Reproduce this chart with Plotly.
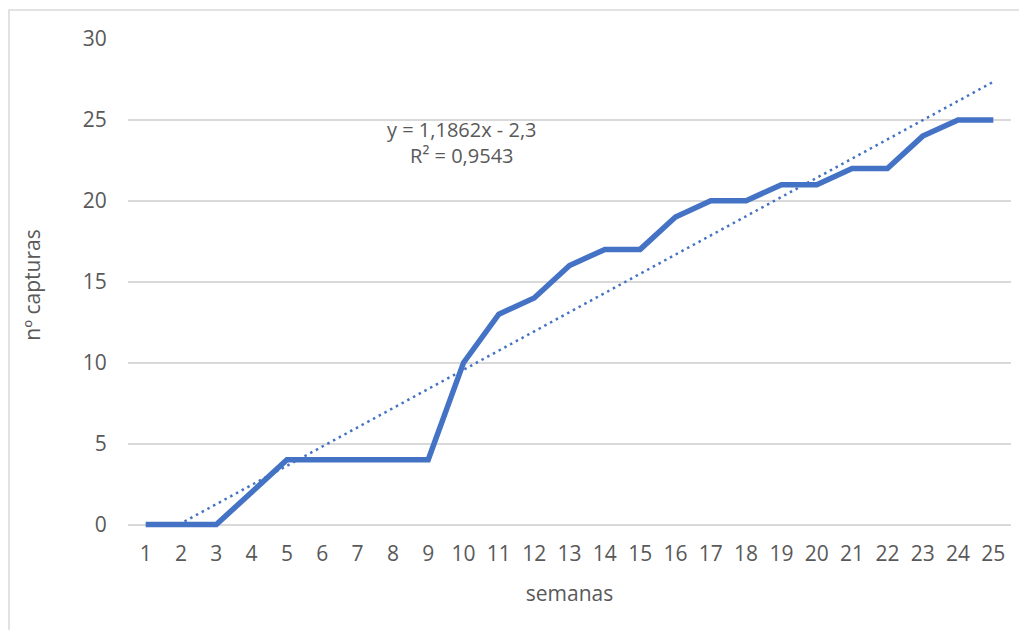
import numpy as np
import plotly.graph_objects as go

semanas = list(range(1, 26))
capturas = [0, 0, 0, 2, 4, 4, 4, 4, 4, 10, 13, 14, 16, 17, 17, 19, 20, 20, 21, 21, 22, 22, 24, 25, 25]
y_ticks = [0, 5, 10, 15, 20, 25, 30]

x = np.array(semanas, dtype=float)
y = np.array(capturas, dtype=float)
m, b = np.polyfit(x, y, 1)
yhat = m * x + b
r2 = 1 - np.sum((y - yhat) ** 2) / np.sum((y - y.mean()) ** 2)
x_start = max(x.min(), -b / m)
tx = np.linspace(x_start, x.max(), 60)
ty = m * tx + b

def fmt(v, d):
    return f"{v:.{d}f}".replace(".", ",")

eq = f"y = {fmt(m, 4)}x - {fmt(abs(b), 1)}<br>R² = {fmt(r2, 4)}"

BLUE = "#4472C4"
GREY = "#595959"
FONT = "Open Sans"

# page body has an 8px margin: figure is sized to fit the window exactly
W, H = 1011, 622
L, R, T, B = 120, 8, 31, 98.5
PW, PH = W - L - R, H - T - B

fig = go.Figure()
fig.add_trace(go.Scatter(x=semanas, y=capturas, mode="lines",
                         line=dict(color=BLUE, width=5.5), showlegend=False))
fig.add_trace(go.Scatter(x=tx, y=ty, mode="lines",
                         line=dict(color=BLUE, width=2.5, dash="2.5px,4px"), showlegend=False))

fig.add_annotation(x=9.95, y=23.6, xref="x", yref="y", text=eq, showarrow=False,
                   font=dict(family=FONT, size=20, color=GREY), align="center")

# chart border
fig.add_shape(type="rect", xref="paper", yref="paper",
              x0=(1 - L) / PW, x1=(W + 20 - L) / PW,
              y0=-0.4, y1=(PH + T - 2) / PH,
              line=dict(color="#D9D9D9", width=1.5), layer="below")

fig.update_layout(
    width=W, height=H,
    margin=dict(l=L, r=R, t=T, b=B, autoexpand=False),
    paper_bgcolor="white", plot_bgcolor="white",
    font=dict(family=FONT, color=GREY, size=21),
    xaxis=dict(range=[0.5, 25.5], tickmode="array", tickvals=semanas,
               ticktext=[str(s) for s in semanas], showgrid=False, zeroline=False,
               showline=False, ticks="outside", ticklen=4, tickcolor="rgba(0,0,0,0)",
               tickfont=dict(size=21, color=GREY), automargin=False,
               title=dict(text="semanas", font=dict(size=21, color=GREY), standoff=20)),
    yaxis=dict(range=[-0.4, 30], tickvals=y_ticks, showgrid=True, gridcolor="#D9D9D9",
               gridwidth=1.5, zeroline=False, showline=False, ticks="outside", ticklen=16,
               tickcolor="rgba(0,0,0,0)", tickfont=dict(size=21, color=GREY), automargin=False,
               title=dict(text="nº capturas", font=dict(size=21, color=GREY), standoff=36)),
)

fig.write_html("out.html")
